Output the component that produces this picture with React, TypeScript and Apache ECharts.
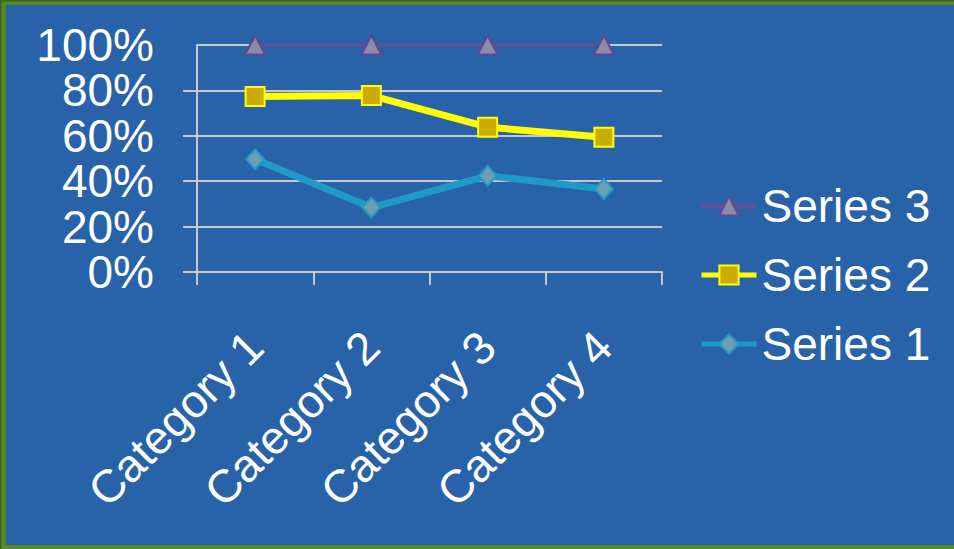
import React, { useEffect, useRef } from "react";
import * as echarts from "echarts";

const categories = ["Category 1", "Category 2", "Category 3", "Category 4"];
const series1 = [0.497, 0.284, 0.424, 0.366];
const series2 = [0.773, 0.777, 0.638, 0.594];
const series3 = [1.0, 1.0, 1.0, 1.0];
const yTicks = { min: 0, max: 1, interval: 0.2 };
const legendOrder = ["Series 3", "Series 2", "Series 1"];

const FONT = "'Liberation Sans', Arial, sans-serif";
const BG = "#2862A8";
const GRID = "#C8C8C8";

const pct = (v: number) => Math.round(v * 100);

export default function App() {
  const ref = useRef<HTMLDivElement>(null);
  useEffect(() => {
    if (!ref.current) return;
    const chart = echarts.init(ref.current, null, { renderer: "svg" });
    const yLabelBase = {
      margin: 43,
      color: "#FFFFFF",
      fontSize: 46,
      lineHeight: 40,
      fontFamily: FONT,
      hideOverlap: false,
    };
    chart.setOption({
      animation: false,
      backgroundColor: BG,
      textStyle: { fontFamily: FONT },
      graphic: [
        { type: "rect", left: 0, top: 0, shape: { width: 954, height: 5 }, style: { fill: "#5A8A28" }, z: 100 },
        { type: "rect", left: 0, top: 0, shape: { width: 954, height: 1.5 }, style: { fill: "#3C641C" }, z: 101 },
        { type: "rect", left: 0, top: 0, shape: { width: 6, height: 549 }, style: { fill: "#5A8A28" }, z: 100 },
        { type: "rect", left: 0, top: 0, shape: { width: 1.5, height: 549 }, style: { fill: "#3C641C" }, z: 101 },
        { type: "rect", left: 0, top: 545, shape: { width: 954, height: 4 }, style: { fill: "#5A8A28" }, z: 100 },
      ],
      grid: { left: 197, top: 45, width: 465, height: 227, containLabel: false },
      legend: {
        orient: "vertical",
        left: 694,
        top: 176,
        itemWidth: 55,
        itemHeight: 24,
        itemGap: 19,
        data: legendOrder,
        lineStyle: { width: 5 },
        textStyle: { color: "#FFFFFF", fontSize: 46, fontFamily: FONT, lineHeight: 50 },
      },
      xAxis: {
        type: "category",
        data: categories,
        boundaryGap: true,
        axisLine: { show: true, lineStyle: { color: GRID, width: 2 } },
        axisTick: { show: true, length: 13, interval: 0, lineStyle: { color: GRID, width: 2 } },
        axisLabel: {
          interval: 0,
          rotate: 45,
          margin: 67,
          color: "#FFFFFF",
          fontSize: 46,
          fontFamily: FONT,
        },
        splitLine: { show: false },
      },
      yAxis: [
        {
          type: "value",
          position: "left",
          offset: 0,
          min: yTicks.min,
          max: yTicks.max,
          interval: yTicks.interval,
          axisLine: { show: true, lineStyle: { color: GRID, width: 2 } },
          axisTick: { show: true, length: 14, lineStyle: { color: GRID, width: 2 } },
          axisLabel: {
            ...yLabelBase,
            showMinLabel: true,
            showMaxLabel: false,
            formatter: (v: number) => (pct(v) % 40 === 0 ? pct(v) + "%" : ""),
          },
          splitLine: { show: true, lineStyle: { color: GRID, width: 2 } },
        },
        {
          type: "value",
          position: "left",
          offset: 0,
          min: yTicks.min,
          max: yTicks.max,
          interval: yTicks.interval,
          axisLine: { show: false },
          axisTick: { show: false },
          axisLabel: {
            ...yLabelBase,
            showMinLabel: false,
            showMaxLabel: true,
            formatter: (v: number) => (pct(v) % 40 !== 0 || pct(v) === 100 ? pct(v) + "%" : ""),
          },
          splitLine: { show: false },
        },
      ],
      series: [
        {
          name: "Series 1",
          type: "line",
          data: series1,
          symbol: "diamond",
          symbolSize: [18, 20],
          lineStyle: { color: "#1E9AC6", width: 7 },
          itemStyle: { color: "#6E9FB0", borderColor: "#2299C6", borderWidth: 2 },
          z: 3,
        },
        {
          name: "Series 2",
          type: "line",
          data: series2,
          symbol: "rect",
          symbolSize: 19,
          lineStyle: { color: "#FFFF00", width: 7 },
          itemStyle: { color: "#CCAC00", borderColor: "#FFFF00", borderWidth: 2 },
          z: 4,
        },
        {
          name: "Series 3",
          type: "line",
          data: series3,
          symbol: "triangle",
          symbolSize: [20, 19],
          lineStyle: { color: "#5E5296", width: 4 },
          itemStyle: { color: "#8E8AAA", borderColor: "#5D4A92", borderWidth: 2 },
          z: 5,
        },
      ],
    });
    return () => chart.dispose();
  }, []);
  return (
    <div
      ref={ref}
      style={{ position: "fixed", left: 0, top: 0, width: 954, height: 549 }}
    />
  );
}
